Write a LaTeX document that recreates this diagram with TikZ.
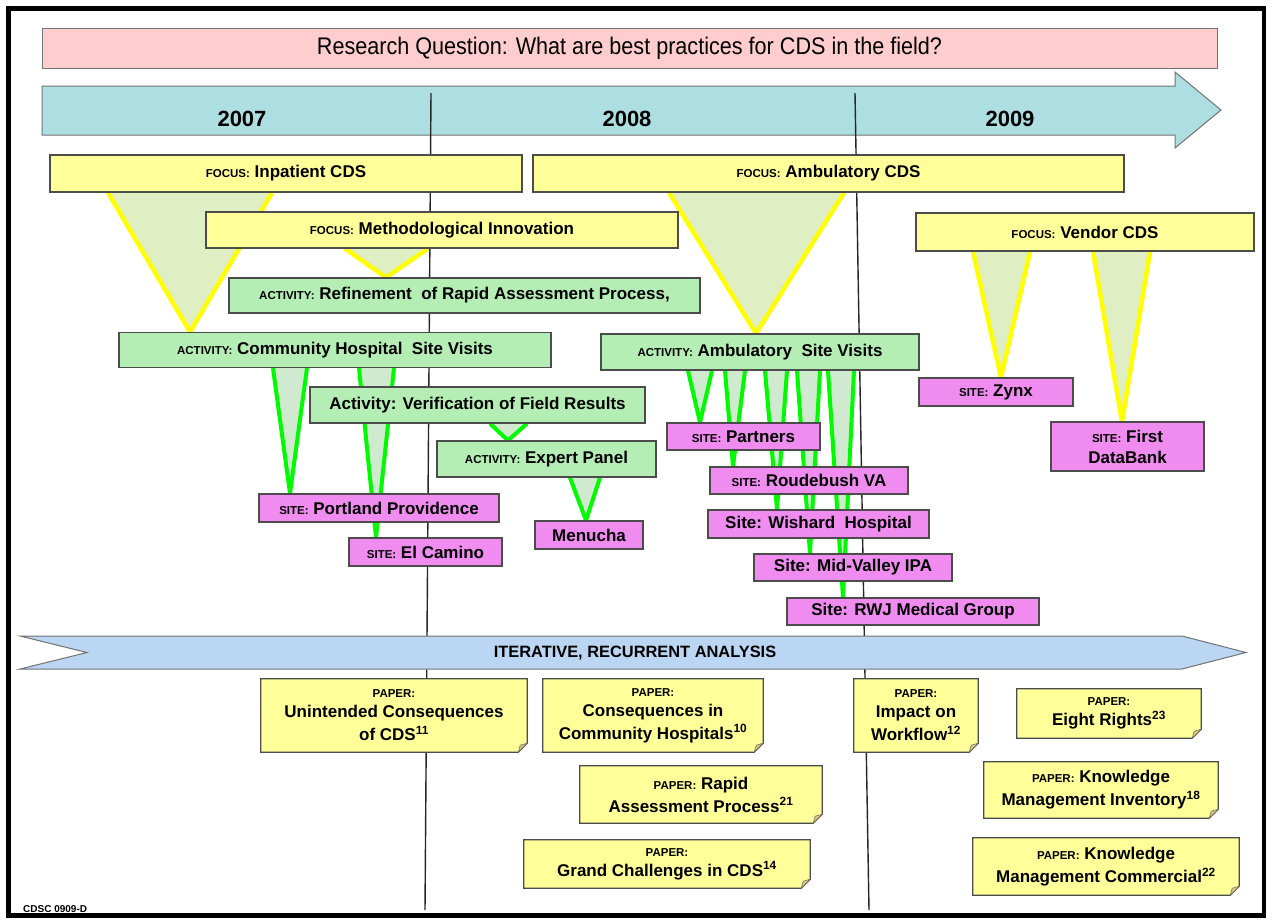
\documentclass[tikz,border=0pt]{standalone}
\usepackage{fontspec}
\setmainfont{Liberation Sans}
\newfontfamily\titlefont{Liberation Sans}[FakeStretch=0.9]
\pgfdeclarelayer{bga}
\pgfdeclarelayer{bgb}
\pgfdeclarelayer{bgc}
\pgfsetlayers{bga,bgb,bgc,main}
\definecolor{rqpink}{RGB}{255,205,205}
\definecolor{tlblue}{RGB}{172,222,226}
\definecolor{boxyel}{RGB}{255,255,153}
\definecolor{actgreen}{RGB}{180,238,180}
\definecolor{sitemag}{RGB}{240,140,240}
\definecolor{iterblue}{RGB}{186,214,242}
\definecolor{funyel}{RGB}{255,255,0}
\definecolor{funyelfill}{RGB}{224,238,196}
\definecolor{fungreen}{RGB}{0,250,0}
\definecolor{fungreenfill}{RGB}{208,234,208}
\definecolor{foldcol}{RGB}{215,200,120}
\newcommand\pre[1]{{\fontsize{11.5}{12}\selectfont #1}}
\newcommand\funnel[6]{%
  \fill[#1fill] (#2,0 |- #4.south) -- (#5,0 |- #6.north) -- (#3,0 |- #4.south) -- cycle;
  \draw[#1line] (#2,0 |- #4.south) -- (#5,0 |- #6.north) -- (#3,0 |- #4.south);}
\newcommand\papershape[1]{%
  \filldraw[fill=boxyel, draw=black!70, line width=1.2pt, line join=miter]
    (#1.north west) -- (#1.north east) -- ([yshift=9pt]#1.south east)
    -- ([xshift=-9pt]#1.south east) -- (#1.south west) -- cycle;
  \filldraw[fill=foldcol, draw=black!55, line width=0.6pt]
    ([yshift=9pt]#1.south east) -- ([xshift=-9pt]#1.south east)
    -- ([xshift=-7pt,yshift=7pt]#1.south east) -- cycle;}
\begin{document}
\begin{tikzpicture}[x=1pt,y=-1pt,
  basebox/.style={draw=black!70, line width=1.2pt, inner sep=0pt, align=center,
    font=\bfseries\fontsize{17}{20}\selectfont},
  focusbox/.style={basebox, fill=boxyel},
  actbox/.style={basebox, fill=actgreen},
  sitebox/.style={basebox, fill=sitemag},
  papertext/.style={inner sep=0pt, align=center, font=\bfseries\fontsize{17}{23}\selectfont},
  year/.style={inner sep=0pt, font=\bfseries\fontsize{22}{24}\selectfont},
  yfill/.style={fill=funyelfill},
  yline/.style={draw=funyel, line width=4.5pt, line join=round},
  gfill/.style={fill=fungreenfill},
  gline/.style={draw=fungreen, line width=4pt, line join=round},
  vline/.style={draw=black!85, line width=1.4pt}
]
\useasboundingbox (0,0) rectangle (1274,919);

% background and timeline arrow
\begin{pgfonlayer}{bga}
\fill[white] (0,0) rectangle (1274,919);
\filldraw[fill=tlblue, draw=black!55, line width=1pt]
  (42,86) -- (1175,86) -- (1175,72) -- (1221,110) -- (1175,148) -- (1175,135) -- (42,135) -- cycle;
\end{pgfonlayer}

% research question
\node[draw=black!55, line width=1pt, fill=rqpink, minimum width=1175, minimum height=40, inner sep=0pt,
  font=\titlefont\fontsize{24}{26}\selectfont] (rq) at (629.5,48)
  {Research Question: What are best practices for CDS in the field?};

% years
\node[year] (y07) at (242,119) {2007};
\node[year] (y08) at (627,119) {2008};
\node[year] (y09) at (1010,119) {2009};

% focus boxes
\node[focusbox, minimum width=472, minimum height=37] (fin) at (286,173.5) {\pre{FOCUS:} Inpatient CDS};
\node[focusbox, minimum width=591, minimum height=37] (famb) at (828.5,173.5) {\pre{FOCUS:} Ambulatory CDS};
\node[focusbox, minimum width=472, minimum height=36] (fmet) at (442,230) {\pre{FOCUS:} Methodological Innovation};
\node[focusbox, minimum width=338, minimum height=38] (fven) at (1085,232) {\pre{FOCUS:} Vendor CDS};

% activities
\node[actbox, minimum width=471, minimum height=35] (aref) at (464.5,295.5) {\pre{ACTIVITY:} Refinement\ \ of Rapid Assessment Process,};
\node[actbox, minimum width=432, minimum height=35] (acom) at (335,350) {\pre{ACTIVITY:} Community Hospital\ \ Site Visits};
\node[actbox, minimum width=318, minimum height=36] (aamb) at (760,352) {\pre{ACTIVITY:} Ambulatory\ \ Site Visits};
\node[actbox, minimum width=335, minimum height=36] (aver) at (477.5,405) {Activity: Verification of Field Results};
\node[actbox, minimum width=219, minimum height=36] (aexp) at (546.5,459) {\pre{ACTIVITY:} Expert Panel};

% sites
\node[sitebox, minimum width=240, minimum height=28] (spor) at (379,508) {\pre{SITE:} Portland Providence};
\node[sitebox, minimum width=153, minimum height=28] (selc) at (425.5,552) {\pre{SITE:} El Camino};
\node[sitebox, minimum width=108, minimum height=28] (smen) at (589,535) {Menucha};
\node[sitebox, minimum width=153, minimum height=27] (spar) at (743.5,436.5) {\pre{SITE:} Partners};
\node[sitebox, minimum width=198, minimum height=27] (srou) at (809,480.5) {\pre{SITE:} Roudebush VA};
\node[sitebox, minimum width=221, minimum height=28] (swis) at (818.5,524) {Site: Wishard\ \ Hospital};
\node[sitebox, minimum width=198, minimum height=27] (smid) at (853,567.5) {Site: Mid-Valley IPA};
\node[sitebox, minimum width=252, minimum height=27] (srwj) at (913,611.5) {Site: RWJ Medical Group};
\node[sitebox, minimum width=154, minimum height=28] (szyn) at (996,392) {\pre{SITE:} Zynx};
\node[sitebox, minimum width=153, minimum height=49, font=\bfseries\fontsize{17}{21}\selectfont] (sfdb) at (1127.5,446.5) {\pre{SITE:} First\\DataBank};

% iterative band
\filldraw[fill=iterblue, draw=black!55, line width=1pt]
  (20,636) -- (1182,636) -- (1246,652.5) -- (1182,669) -- (20,669) -- (87,652.5) -- cycle;
\node[inner sep=0pt, font=\bfseries\fontsize{16.4}{18}\selectfont] (iter) at (635,653) {ITERATIVE, RECURRENT ANALYSIS};

% papers (text)
\node[papertext, minimum width=266, minimum height=73] (p1) at (394,715.5)
  {\pre{PAPER:}\\[-3pt] Unintended Consequences\\ of CDS\textsuperscript{11}};
\node[papertext, minimum width=220, minimum height=73] (p2) at (653,715.5)
  {\pre{PAPER:}\\[-3pt] Consequences in\\ Community Hospitals\textsuperscript{10}};
\node[papertext, minimum width=124, minimum height=73] (p3) at (916,715.5)
  {\pre{PAPER:}\\[-3pt] Impact on\\ Workflow\textsuperscript{12}};
\node[papertext, minimum width=184, minimum height=49] (p4) at (1109,713.5)
  {\pre{PAPER:}\\[-3pt] Eight Rights\textsuperscript{23}};
\node[papertext, minimum width=242, minimum height=57] (p5) at (701,794.5)
  {\pre{PAPER:} Rapid\\ Assessment Process\textsuperscript{21}};
\node[papertext, minimum width=234, minimum height=56] (p6) at (1101,790)
  {\pre{PAPER:} Knowledge\\ Management Inventory\textsuperscript{18}};
\node[papertext, minimum width=286, minimum height=48] (p7) at (667,864)
  {\pre{PAPER:}\\[-3pt] Grand Challenges in CDS\textsuperscript{14}};
\node[papertext, minimum width=266, minimum height=57] (p8) at (1106,866.5)
  {\pre{PAPER:} Knowledge\\ Management Commercial\textsuperscript{22}};

\node[anchor=south west, inner sep=0pt, font=\bfseries\fontsize{10}{10}\selectfont] (code) at (23,913) {CDSC 0909-D};

% year dividers
\coordinate (v1t) at (431,93);
\coordinate (v1b) at (425,910);
\coordinate (v2t) at (855,93);
\coordinate (v2b) at (869,910);
\begin{pgfonlayer}{bgb}
\draw[vline] (v1t) -- (v1b);
\draw[vline] (v2t) -- (v2b);
\end{pgfonlayer}

% funnels and paper shapes
\begin{pgfonlayer}{bgc}
\funnel{y}{108}{272}{fin}{190}{acom}
\funnel{y}{345}{428}{fmet}{386}{aref}
\funnel{y}{669}{844}{famb}{756}{aamb}
\funnel{y}{973}{1030}{fven}{1001}{szyn}
\funnel{y}{1093}{1150}{fven}{1122}{sfdb}
\funnel{g}{273}{307}{acom}{290}{spor}
\funnel{g}{359}{394}{acom}{376}{selc}
\funnel{g}{490}{527}{aver}{508}{aexp}
\funnel{g}{570}{600}{aexp}{586}{smen}
\funnel{g}{688}{712}{aamb}{700}{spar}
\funnel{g}{725}{745}{aamb}{733}{srou}
\funnel{g}{765}{787}{aamb}{777}{swis}
\funnel{g}{797}{820}{aamb}{810}{smid}
\funnel{g}{828}{854}{aamb}{843}{srwj}
\papershape{p1}
\papershape{p2}
\papershape{p3}
\papershape{p4}
\papershape{p5}
\papershape{p6}
\papershape{p7}
\papershape{p8}
\end{pgfonlayer}

% outer frame
\draw[line width=4.5pt] (8.5,8.5) rectangle (1264,915.5);
\end{tikzpicture}
\end{document}
